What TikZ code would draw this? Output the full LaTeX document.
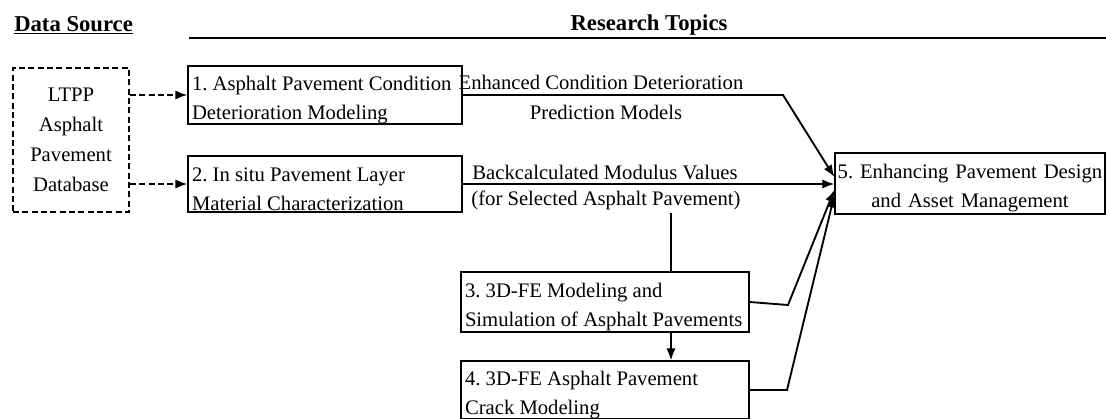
\documentclass[tikz,border=0pt]{standalone}
\usepackage{fontspec}
\setmainfont{Liberation Serif}
\usetikzlibrary{arrows.meta,calc}

\begin{document}
\begin{tikzpicture}[x=0.75pt,y=-0.75pt]
    \tikzstyle{every node}=[font=\fontsize{15.5}{21.75}\selectfont\frenchspacing]
    \tikzstyle{topic}=[draw,line width=1pt,inner xsep=3pt,inner ysep=0pt,text height=18pt,align=flush left]
    \tikzstyle{flow}=[line width=1.4pt,-{Latex[length=9pt,width=7pt]}]
    \tikzstyle{feed}=[flow,dash pattern=on 4.5pt off 2.5pt]
    \tikzstyle{tag}=[inner sep=0pt,align=center]
    \tikzstyle{head}=[inner sep=0pt,font=\fontsize{17}{20}\selectfont\bfseries]

    \clip (0,0) rectangle (1106,418);

    % headings
    \node[head,anchor=west] (hsrc) at (14,25) {\underline{Data Source}};
    \node[head] (htop) at (649,25) {Research Topics};
    \draw[line width=1pt] (189,38) -- (1106,38);

    % data source
    \node[draw,line width=1.4pt,dash pattern=on 4.5pt off 2.5pt,align=center,
          minimum width=87pt,minimum height=108pt,
          font=\fontsize{15.5}{22.5}\selectfont] (ltpp) at (71,140)
          {LTPP\\Asphalt\\Pavement\\Database};

    % research topics
    \node[topic,text width=199.5pt,minimum height=43.5pt] (b1) at (325,95)
          {1. Asphalt Pavement Condition\\Deterioration Modeling};
    \node[topic,text width=199.5pt,minimum height=42pt] (b2) at (325,184)
          {2. In situ Pavement Layer\\Material Characterization};
    \node[topic,text width=210pt,minimum height=45pt] (b3) at (605,302)
          {3. 3D-FE Modeling and\\Simulation of Asphalt Pavements};
    \node[topic,text width=210pt,minimum height=43.5pt] (b4) at (605,390)
          {4. 3D-FE Asphalt Pavement\\Crack Modeling};
    \node[topic,align=center,inner xsep=1pt,text width=200.5pt,minimum height=45.75pt] (b5) at (970,183.5)
          {5. Enhancing Pavement Design\\and Asset Management};

    % outputs
    \node[tag] (t1a) at (601,82) {Enhanced Condition Deterioration};
    \node[tag] (t1b) at (606,112) {Prediction Models};
    \node[tag] (t2a) at (605,172) {Backcalculated Modulus Values};
    \node[tag] (t2b) at (606,200) {(for Selected Asphalt Pavement)};
    \coordinate (tap) at (671,213);

    % connectors
    \draw[feed] (ltpp.east |- b1.west) -- (b1.west);
    \draw[feed] (ltpp.east |- b2.west) -- (b2.west);

    \draw[flow] (b1.east) -- (783,95) -- ($(b5.west)+(0,-6.5)$);
    \draw[flow] (b2.east) -- (b2.east -| b5.west);
    \draw[line width=1.4pt] (tap) -- (tap |- b3.north);
    \draw[flow] (tap |- b3.south) -- (tap |- b4.north);
    \draw[flow] (b3.east) -- (788,305) -- ($(b5.west)+(0,6.5)$);
    \draw[flow] (b4.east) -- (787,390) -- ($(b5.west)+(0,12)$);
\end{tikzpicture}
\end{document}
